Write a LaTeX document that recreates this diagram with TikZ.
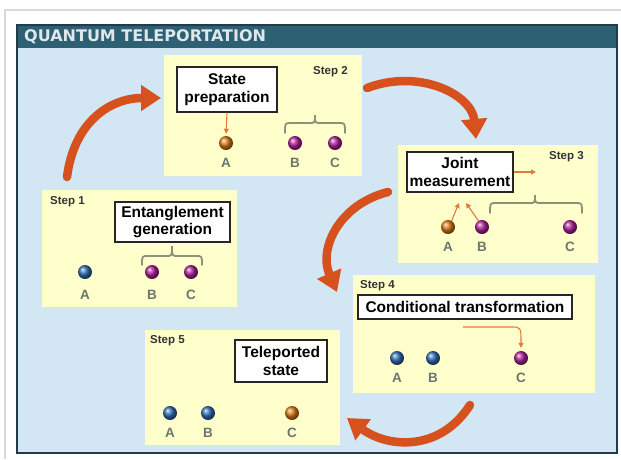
\documentclass[tikz,border=0pt]{standalone}
\usepackage{fontspec}
\setmainfont{Liberation Sans}
\newfontfamily\titlefont{DejaVu Sans}
\usetikzlibrary{arrows.meta,shadings}
\definecolor{panelblue}{HTML}{D3E6F3}
\definecolor{titlebar}{HTML}{2C6072}
\definecolor{paneledge}{HTML}{1E3C4A}
\definecolor{stepyellow}{HTML}{FFFFCC}
\definecolor{bigorange}{HTML}{D6511E}
\definecolor{thinorange}{HTML}{E07B3C}
\definecolor{ballblue}{HTML}{2F6DB5}
\definecolor{ballmag}{HTML}{B0209A}
\definecolor{ballorange}{HTML}{DA7A18}
\definecolor{labelgray}{HTML}{6A776C}
\definecolor{bracecol}{HTML}{8C9278}
\tikzset{
  stepbox/.style={fill=stepyellow, draw=none, inner sep=0, rectangle},
  txtbox/.style={draw=black!85, line width=1.2pt, fill=white, align=center, inner sep=1.5pt,
    font=\fontsize{15.5}{17.5}\selectfont\bfseries},
  steplabel/.style={font=\fontsize{11.5}{13}\selectfont\bfseries, text=black!80, anchor=west, inner sep=0},
  qball/.style={circle, minimum size=14pt, inner sep=0, shading=ball, ball color=#1},
  ltr/.style={font=\fontsize{13.5}{15}\selectfont\bfseries, text=labelgray, inner sep=0},
  bigarrow/.style={draw=bigorange, line width=8.5pt, line cap=round, -{Triangle[width=25pt,length=20pt]}},
  thinarrow/.style={draw=thinorange, line width=1.1pt, -{Triangle[width=5pt,length=5pt]}},
  bracestyle/.style={draw=bracecol, line width=1.8pt, line cap=round}
}
\newcommand{\qbrace}[6]{\draw[bracestyle] (#1,#4) .. controls (#1,#5) .. (#1+6,#5) -- (#3-6,#5) .. controls (#3,#5) .. (#3,#6) .. controls (#3,#5) .. (#3+6,#5) -- (#2-6,#5) .. controls (#2,#5) .. (#2,#4);}
\begin{document}
\begin{tikzpicture}[x=1pt,y=-1pt]
\useasboundingbox (0,0) rectangle (621,459);
\fill[white] (0,0) rectangle (621,459);
\draw[black!15, line width=1.5pt] (5,459) -- (5,10) -- (621,10);
% panel
\fill[panelblue] (17,25) rectangle (617,453);
\fill[titlebar] (17,25) rectangle (617,48);
\draw[paneledge, line width=2pt] (17,25) rectangle (617,453);
\node[anchor=west, inner sep=0, text=white!85!titlebar, font={\titlefont\fontsize{16}{18}\selectfont\bfseries}] (title) at (24,37) {QUANTUM TELEPORTATION};
% step boxes
\node[stepbox, minimum width=195pt, minimum height=117pt] (s1) at (139.5,248.5) {};
\node[stepbox, minimum width=198pt, minimum height=121pt] (s2) at (263,115.5) {};
\node[stepbox, minimum width=200pt, minimum height=118pt] (s3) at (498,204) {};
\node[stepbox, minimum width=242pt, minimum height=118pt] (s4) at (474,334) {};
\node[stepbox, minimum width=195pt, minimum height=115pt] (s5) at (242.5,387.5) {};
% step labels
\node[steplabel] (l1) at (50,202) {Step 1};
\node[steplabel] (l2) at (313,72) {Step 2};
\node[steplabel] (l3) at (549,157) {Step 3};
\node[steplabel] (l4) at (360,286) {Step 4};
\node[steplabel] (l5) at (150,341) {Step 5};
% text boxes
\node[txtbox, minimum width=115pt, minimum height=40pt] (gen) at (172.5,222) {Entanglement\\generation};
\node[txtbox, minimum width=100pt, minimum height=45pt] (prep) at (227,89.5) {State\\preparation};
\node[txtbox, minimum width=106pt, minimum height=40pt] (meas) at (460,172) {Joint\\measurement};
\node[txtbox, minimum width=214pt, minimum height=24pt] (cond) at (465,307) {Conditional transformation};
\node[txtbox, minimum width=92pt, minimum height=42pt] (tele) at (281,361) {Teleported\\state};
% step 1 balls
\node[qball=ballblue] (a1) at (85,272) {};
\node[qball=ballmag] (b1) at (152,272) {};
\node[qball=ballmag] (c1) at (191,272) {};
\node[ltr] (la1) at (85,295) {A};
\node[ltr] (lb1) at (152,295) {B};
\node[ltr] (lc1) at (191,295) {C};
\qbrace{142}{202}{172}{265}{256}{246}
% step 2
\node[qball=ballorange] (a2) at (226,143) {};
\node[qball=ballmag] (b2) at (295,143) {};
\node[qball=ballmag] (c2) at (335,143) {};
\node[ltr] (la2) at (226,163) {A};
\node[ltr] (lb2) at (295,163) {B};
\node[ltr] (lc2) at (335,163) {C};
\qbrace{285}{345}{315}{133}{123}{115}
\draw[thinarrow, shorten >=2pt] (prep.south) -- (a2.north);
% step 3
\node[qball=ballorange] (a3) at (448,227) {};
\node[qball=ballmag] (b3) at (482,227) {};
\node[qball=ballmag] (c3) at (570,227) {};
\node[ltr] (la3) at (448,247) {A};
\node[ltr] (lb3) at (482,247) {B};
\node[ltr] (lc3) at (570,247) {C};
\qbrace{490}{582}{535}{213}{203}{195}
\coordinate (m3a) at (459,203);
\coordinate (m3b) at (466,203);
\coordinate (m3out) at (536,172);
\draw[thinarrow] (a3.60) -- (m3a);
\draw[thinarrow] (b3.120) -- (m3b);
\draw[thinarrow] (meas.east) -- (m3out);
% step 4
\node[qball=ballblue] (a4) at (397,358) {};
\node[qball=ballblue] (b4) at (433,358) {};
\node[qball=ballmag] (c4) at (521,358) {};
\node[ltr] (la4) at (397,378) {A};
\node[ltr] (lb4) at (433,378) {B};
\node[ltr] (lc4) at (521,378) {C};
\coordinate (t4) at (463,327);
\draw[thinarrow, shorten >=3pt] (t4) -- (511,327) .. controls (521,327) .. (c4.north);
% step 5
\node[qball=ballblue] (a5) at (170,413) {};
\node[qball=ballblue] (b5) at (208,413) {};
\node[qball=ballorange] (c5) at (292,413) {};
\node[ltr] (la5) at (170,433) {A};
\node[ltr] (lb5) at (208,433) {B};
\node[ltr] (lc5) at (292,433) {C};
% big arrows
\coordinate (g1s) at (67,177);
\coordinate (g1e) at (161,98);
\coordinate (g2s) at (367,88);
\coordinate (g2e) at (476,139);
\coordinate (g3s) at (388,192);
\coordinate (g3e) at (337,292);
\coordinate (g4s) at (470,405);
\coordinate (g4e) at (347,418);
\draw[bigarrow] (g1s) .. controls (74,122) and (110,98) .. (g1e);
\draw[bigarrow] (g2s) .. controls (420,68) and (472,95) .. (g2e);
\draw[bigarrow] (g3s) .. controls (340,204) and (318,248) .. (g3e);
\draw[bigarrow] (g4s) .. controls (440,452) and (388,448) .. (g4e);
\end{tikzpicture}
\end{document}
